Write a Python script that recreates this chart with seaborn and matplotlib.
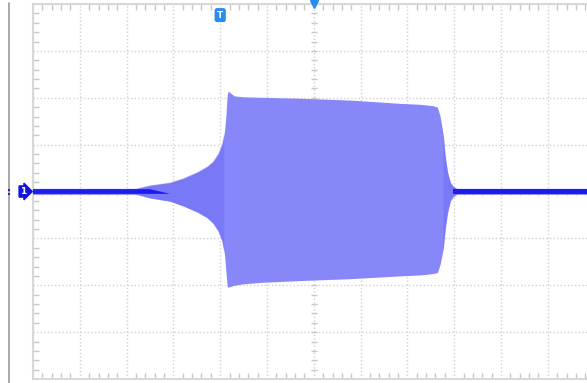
import numpy as np
import pandas as pd
import seaborn as sns
import matplotlib.pyplot as plt
from matplotlib.lines import Line2D

# envelope of the captured burst, in screen divisions
t_div = [-6.0, -3.80, -3.50, -3.07, -2.79, -2.49, -2.28, -2.15, -2.04, -1.96,
         -1.91, -1.88, -1.85, -1.83, -1.70, -1.50, -1.15, -0.29, 0.78, 1.85,
         2.27, 2.55, 2.64, 2.70, 2.77, 2.81, 2.86, 2.92, 2.98, 3.06, 6.0]
upper = [0.06, 0.06, 0.13, 0.19, 0.28, 0.41, 0.53, 0.64, 0.81, 1.00,
         1.26, 1.60, 2.07, 2.14, 2.04, 2.02, 2.01, 1.99, 1.95, 1.88,
         1.86, 1.83, 1.80, 1.60, 1.18, 0.75, 0.41, 0.19, 0.11, 0.06, 0.06]
lower = [-0.06, -0.06, -0.14, -0.21, -0.31, -0.44, -0.56, -0.68, -0.85, -1.05,
         -1.32, -1.68, -2.03, -2.04, -2.00, -1.97, -1.94, -1.90, -1.86, -1.80,
         -1.78, -1.75, -1.73, -1.55, -1.20, -0.80, -0.45, -0.20, -0.11, -0.06, -0.06]

trigger_pos = -2.0   # "T" marker, in divisions
n_xdiv, n_ydiv = 12, 8

df = pd.DataFrame({'t': t_div, 'upper': upper, 'lower': lower})

sns.set_theme(style='white')
fig = plt.figure(figsize=(5.87, 3.83), dpi=100)
ax = fig.add_axes([33 / 587, 4 / 383, 561.6 / 587, 375 / 383])

fill_col = '#8787f9'
trace_col = '#1c1cec'

# burst envelope
ax.fill_between(df['t'], df['lower'], df['upper'], color=fill_col, lw=0, zorder=3)
# onset / decay, a little denser than the burst
edge = (df['upper'] < 1.3)
ax.fill_between(df['t'], df['lower'], df['upper'], where=edge, interpolate=True,
                color='#6a6af5', lw=0, zorder=3.2, alpha=0.45)
# dense trace at rest
rest = df['upper'] < 0.16
ax.fill_between(df['t'], -0.05, 0.05, where=rest, interpolate=True,
                color=trace_col, lw=0, zorder=4)
sns.lineplot(x=df['t'], y=0, ax=ax, color=trace_col, lw=0, zorder=4)

ax.set_xlim(-n_xdiv / 2, n_xdiv / 2)
ax.set_ylim(-n_ydiv / 2, n_ydiv / 2)
ax.set_xticks(np.arange(-6, 7, 1))
ax.set_yticks(np.arange(-4, 5, 1))
ax.set_xticks(np.arange(-6, 6.01, 0.2), minor=True)
ax.set_yticks(np.arange(-4, 4.01, 0.2), minor=True)
ax.tick_params(which='both', direction='in', top=True, bottom=True, left=True,
               right=False, labelbottom=False, labelleft=False,
               color='#c8c8c8', width=1)
ax.tick_params(which='major', length=0)
ax.tick_params(which='minor', length=4)
ax.grid(True, which='major', linestyle=(0, (1, 1.6)), color='#d0d0d0', lw=1)
ax.set_xlabel('')
ax.set_ylabel('')
for s in ['top', 'left', 'bottom']:
    ax.spines[s].set_color('#d8d8d8')
    ax.spines[s].set_linewidth(1.5)
ax.spines['right'].set_visible(False)

# crosshair ticks on the centre lines
cx = np.arange(-6, 6.01, 0.2)
cy = np.arange(-4, 4.01, 0.2)
ax.plot(cx, np.zeros_like(cx), ls='none', marker='|', ms=4, mew=1,
        color='#c8c8c8', zorder=1)
ax.plot(np.zeros_like(cy), cy, ls='none', marker='_', ms=4, mew=1,
        color='#c8c8c8', zorder=1)

# left bezel line
fig.add_artist(Line2D([9 / 587, 9 / 587], [0, 1 - 3 / 383], color='#9a9a9a', lw=1.2))
fig.add_artist(Line2D([9 / 587, 9 / 587], [1 - 189 / 383, 1 - 195 / 383],
                      color='#1c1cec', lw=1.5, ls=(0, (1, 1))))

# channel 1 marker
tr = ax.get_yaxis_transform()
ax.annotate('1', xy=(0, 0), xycoords=tr, xytext=(-7, 0), textcoords='offset points',
            ha='center', va='center', color='white', fontsize=6.5, fontweight='bold',
            annotation_clip=False,
            bbox=dict(boxstyle='rarrow,pad=0.12', fc='#1414d8', ec='#1414d8'))

# trigger markers
trx = ax.get_xaxis_transform()
ax.annotate('T', xy=(trigger_pos, 1), xycoords=trx, xytext=(0, -8),
            textcoords='offset points', ha='center', va='center', color='white',
            fontsize=6.5, fontweight='bold', annotation_clip=False, zorder=6,
            bbox=dict(boxstyle='round,pad=0.2', fc='#2a8cf0', ec='#2a8cf0'))
ax.plot([0], [1], transform=trx, marker='v', ms=6, color='#2a8cf0', clip_on=False,
        zorder=6)

fig.savefig('out.png', dpi=100)
